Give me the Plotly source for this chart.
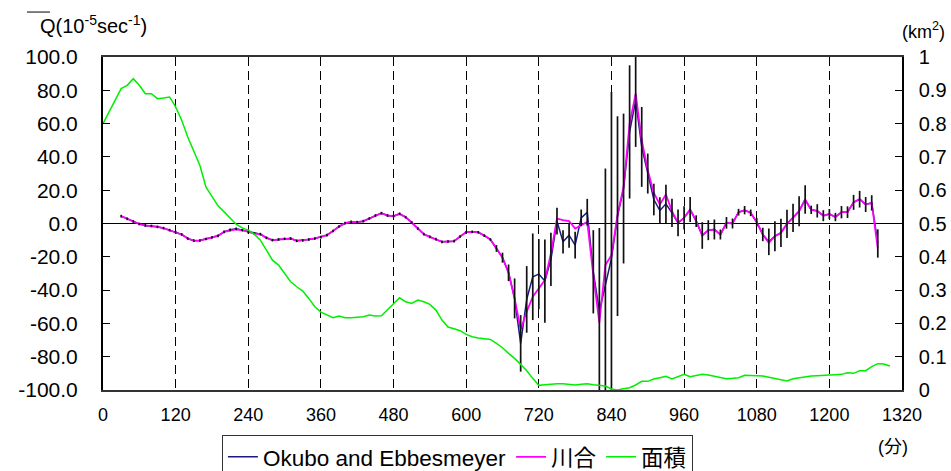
import plotly.graph_objects as go

# elapsed time (minutes) of each Q estimate
q_time = list(range(30, 1281, 10))

# Q estimated by the Okubo and Ebbesmeyer method (10^-5 sec^-1)
q_okubo = [
    4.4, 2.8, 1.2, -0.3, -1.2, -1.5, -2.0, -2.8, -4.0, -5.2,
    -6.6, -9.0, -10.3, -10.2, -9.3, -8.4, -7.4, -5.0, -3.8, -3.2,
    -4.0, -5.2, -6.0, -6.4, -8.6, -10.0, -9.6, -9.2, -9.0, -10.4,
    -10.2, -9.6, -9.0, -8.2, -7.0, -4.5, -1.8, 0.2, 1.0, 0.8,
    1.4, 3.0, 4.8, 6.2, 4.8, 4.4, 5.8, 3.8, 0.6, -3.0,
    -6.4, -8.0, -9.4, -11.0, -10.8, -10.6, -7.8, -5.2, -5.0, -5.3,
    -7.3, -9.6, -15.0, -20.5, -29.6, -45.0, -72.0, -45.6, -32.0, -30.4,
    -34.6, -21.6, 1.4, -11.0, -7.0, -13.0, 3.4, 6.8, -29.0, -52.7,
    -37.0, -21.0, 4.4, 21.0, 55.0, 74.0, 46.0, 30.0, 14.4, 7.8,
    11.8, 6.4, 0.4, 3.4, 8.4, 1.4, -7.2, -4.0, -3.6, -6.6,
    0.4, 0.0, 6.8, 8.0, 6.4, 0.8, -6.6, -11.0, -7.6, -5.6,
    -0.2, 3.4, 7.4, 14.4, 8.2, 7.6, 4.7, 5.7, 3.9, 6.8,
    6.8, 12.7, 14.6, 11.4, 12.4, -12.0,
]

# Q estimated by the Kawai method (10^-5 sec^-1)
q_kawai = [
    4.4, 2.8, 1.2, -0.3, -1.2, -1.5, -2.0, -2.8, -4.0, -5.2,
    -6.6, -9.0, -10.3, -10.2, -9.3, -8.4, -7.4, -5.0, -4.2, -3.6,
    -4.0, -5.2, -6.0, -6.4, -8.6, -10.0, -9.6, -9.2, -9.0, -10.4,
    -10.2, -9.6, -9.0, -8.2, -7.0, -4.5, -1.8, 0.2, 1.0, 0.8,
    1.4, 3.0, 4.8, 6.2, 4.8, 4.4, 5.8, 3.8, 0.6, -3.0,
    -6.4, -8.0, -9.4, -11.0, -10.8, -10.6, -7.8, -5.2, -5.0, -5.3,
    -7.3, -9.6, -15.0, -20.5, -29.6, -45.0, -63.7, -53.0, -44.0, -39.0,
    -34.0, -18.0, 3.0, 2.0, 1.5, -3.0, -1.0, 1.0, -31.0, -59.6,
    -25.0, -19.0, 5.0, 22.0, 60.0, 78.0, 50.0, 32.0, 18.4, 11.4,
    17.4, 7.4, 0.4, 3.4, 8.4, 1.4, -7.2, -4.0, -3.6, -6.6,
    0.4, 0.0, 6.8, 8.0, 6.4, 0.8, -6.6, -11.6, -7.6, -5.6,
    -0.2, 3.4, 7.4, 14.4, 8.2, 7.6, 4.7, 5.7, 3.9, 6.8,
    6.8, 12.7, 14.6, 11.4, 12.4, -15.0,
]

# half-width of the uncertainty bars on the Okubo and Ebbesmeyer estimate
q_err = [0.8] * 62 + [
    2.0, 3.0, 5.0, 12.0, 17.0, 20.0, 26.0, 21.0, 25.0, 16.0,
    8.0, 7.0, 7.5, 8.0, 5.0, 8.0, 25.0, 50.0, 70.0, 100.0,
    60.0, 45.0, 40.0, 28.0, 24.0, 12.0, 9.5, 8.0, 11.5, 8.5,
    8.0, 7.0, 7.5, 3.5, 8.0, 6.0, 6.0, 3.0, 3.5, 3.0,
    2.0, 2.5, 2.0, 2.5, 4.0, 8.0, 9.0, 8.5, 8.5, 8.5,
    9.0, 8.5, 2.5, 4.0, 3.3, 3.0, 2.5, 3.7, 3.5, 4.5,
    5.0, 4.5, 4.6, 8.5,
]

# cluster area (km^2)
area_time = list(range(0, 1301, 10))
area_km2 = [
    0.800, 0.835, 0.870, 0.905, 0.915, 0.935, 0.915, 0.890, 0.890, 0.875,
    0.877, 0.880, 0.850, 0.810, 0.760, 0.715, 0.675, 0.610, 0.580, 0.553,
    0.535, 0.515, 0.498, 0.487, 0.480, 0.468, 0.450, 0.420, 0.390, 0.375,
    0.350, 0.325, 0.310, 0.297, 0.275, 0.250, 0.234, 0.225, 0.217, 0.222,
    0.217, 0.217, 0.219, 0.220, 0.225, 0.222, 0.223, 0.240, 0.257, 0.277,
    0.265, 0.260, 0.270, 0.265, 0.257, 0.240, 0.210, 0.189, 0.184, 0.178,
    0.167, 0.160, 0.156, 0.154, 0.152, 0.140, 0.127, 0.110, 0.095, 0.077,
    0.058, 0.035, 0.014, 0.016, 0.018, 0.019, 0.019, 0.017, 0.015, 0.017,
    0.019, 0.016, 0.014, 0.012, 0.003, 0.000, 0.004, 0.007, 0.015, 0.026,
    0.026, 0.033, 0.037, 0.041, 0.033, 0.040, 0.047, 0.040, 0.044, 0.047,
    0.045, 0.042, 0.038, 0.034, 0.035, 0.037, 0.044, 0.044, 0.044, 0.042,
    0.038, 0.035, 0.030, 0.027, 0.034, 0.037, 0.040, 0.042, 0.043, 0.045,
    0.045, 0.046, 0.047, 0.052, 0.050, 0.058, 0.058, 0.070, 0.079, 0.078,
    0.072,
]

x_ticks = list(range(0, 1321, 120))
q_ticks = list(range(-100, 101, 20))
q_tick_text = ["%.1f" % v for v in q_ticks]   # plain hyphen minus signs
FONT = "Liberation Sans, Arial, Noto Sans CJK JP, sans-serif"

fig = go.Figure()

fig.add_trace(go.Scatter(
    x=q_time, y=q_okubo, mode="lines", name="Okubo and Ebbesmeyer",
    line=dict(color="#1a1a80", width=1.5),
))
fig.add_trace(go.Scatter(
    x=q_time, y=q_kawai, mode="lines", name="川合",
    line=dict(color="#ff00ff", width=1.8),
))
fig.add_trace(go.Scatter(
    x=q_time, y=q_okubo, mode="markers", showlegend=False, hoverinfo="skip",
    marker=dict(size=1, color="rgba(0,0,0,0)"),
    error_y=dict(type="data", array=q_err, color="#111111", thickness=1.7, width=0),
))
fig.add_trace(go.Scatter(
    x=area_time, y=area_km2, mode="lines", name="面積", yaxis="y2",
    line=dict(color="#00ee00", width=1.5),
))

fig.update_layout(
    width=951, height=471,
    margin=dict(l=103, r=49, t=57, b=81, autoexpand=False),
    paper_bgcolor="white", plot_bgcolor="white",
    font=dict(family=FONT, color="black"),
    showlegend=True,
    legend=dict(
        orientation="h", xref="container", yref="container",
        x=0.481, xanchor="center", y=0.077, yanchor="top",
        font=dict(size=22.5, family=FONT), bordercolor="#333333", borderwidth=1,
        bgcolor="white", itemwidth=30, tracegroupgap=0,
    ),
    xaxis=dict(
        range=[0, 1320], tickvals=x_ticks, ticks="",
        showgrid=True, gridcolor="black", griddash="9px,5px", gridwidth=1,
        showline=True, linecolor="#333333", linewidth=1.5, mirror=True,
        zeroline=False, tickfont=dict(size=18), ticklabelstandoff=8,
        automargin=False,
    ),
    yaxis=dict(
        range=[-100, 100], tickvals=q_ticks, ticktext=q_tick_text,
        ticks="inside", ticklen=7, tickcolor="black",
        showgrid=False, zeroline=True, zerolinecolor="black", zerolinewidth=1,
        showline=True, linecolor="black", linewidth=2,
        tickfont=dict(size=21), ticklabelstandoff=19, automargin=False,
    ),
    yaxis2=dict(
        range=[0, 1], dtick=0.1, overlaying="y", side="right",
        ticks="inside", ticklen=7, tickcolor="black",
        showgrid=False, zeroline=False,
        showline=True, linecolor="black", linewidth=1.5,
        tickfont=dict(size=20), ticklabelstandoff=11, automargin=False,
    ),
    annotations=[
        dict(text="Q(10<sup>-5</sup>sec<sup>-1</sup>)", xref="paper", yref="paper",
             x=-0.0814, y=1.099, xanchor="left", yanchor="middle", showarrow=False,
             font=dict(size=20, family=FONT)),
        dict(text="(km<sup>2</sup>)", xref="paper", yref="paper",
             x=0.9975, y=1.081, xanchor="left", yanchor="middle", showarrow=False,
             font=dict(size=18, family=FONT)),
        dict(text="(分)", xref="paper", yref="paper",
             x=0.989, y=-0.171, xanchor="center", yanchor="middle", showarrow=False,
             font=dict(size=18, family=FONT)),
    ],
    shapes=[
        # overbar on Q
        dict(type="line", xref="paper", yref="paper",
             x0=-0.0951, x1=-0.0663, y0=1.135, y1=1.135,
             line=dict(color="black", width=1)),
    ],
)

fig.write_html("out.html")
